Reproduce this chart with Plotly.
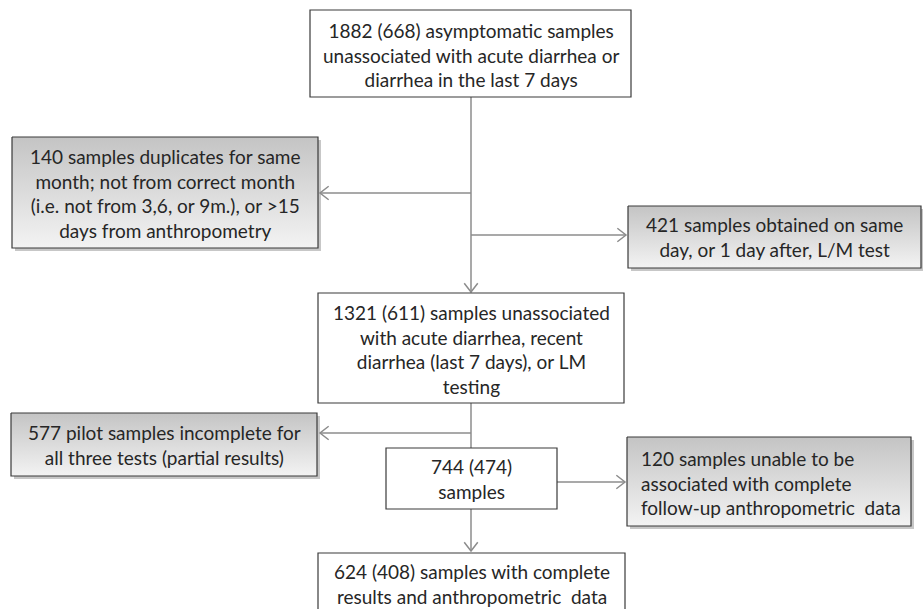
import math
import plotly.graph_objects as go

W, H = 923, 609

# Flowchart content
box_texts = [
    "1882 (668) asymptomatic samples<br>unassociated with acute diarrhea or<br>diarrhea in the last 7 days",
    "140 samples duplicates for same<br>month; not from correct month<br>(i.e. not from 3,6, or 9m.), or >15<br>days from anthropometry",
    "421 samples obtained on same<br>day, or 1 day after, L/M test",
    "1321 (611) samples unassociated<br>with acute diarrhea, recent<br>diarrhea (last 7 days), or LM<br>testing",
    "577 pilot samples incomplete for<br>all three tests (partial results)",
    "744 (474)<br>samples",
    "120 samples unable to be<br>associated with complete<br>follow-up anthropometric  data",
    "624 (408) samples with complete<br>results and anthropometric  data",
]
box_kind = ["main", "excl", "excl", "main", "excl", "main", "excl", "main"]
box_align = ["center", "center", "center", "center", "center", "center", "left", "center"]

# layout geometry (pixels)
rects = [
    (310, 10, 631, 97),
    (12, 137, 318, 248),
    (628, 206, 921, 268),
    (318, 293, 624, 403),
    (11, 413, 317, 476),
    (386, 448, 557, 509),
    (627, 437, 911, 526),
    (318, 553, 625, 660),
]
text_y = [55, 193, 237, 349, 445, 479, 483, 584]

connectors = [  # (points, arrow at end?)
    ([(471, 97), (471, 292)], True),
    ([(471, 193), (320, 193)], True),
    ([(471, 235), (626, 235)], True),
    ([(471, 403), (471, 448)], False),
    ([(471, 433), (320, 433)], True),
    ([(557, 482), (625, 482)], True),
    ([(471, 509), (471, 551)], True),
]

fig = go.Figure()
shapes = []
annotations = []
LINE = "#8c8c8c"
BORDER = "#3a3a3a"
FONT = dict(family="Lato, Open Sans, sans-serif", size=19, color="#262626")

for (x0, y0, x1, y1), kind, txt, al, ty in zip(rects, box_kind, box_texts, box_align, text_y):
    if kind == "excl":
        shapes.append(dict(type="rect", x0=x0 + 3, y0=y0 + 3, x1=x1 + 3, y1=y1 + 3,
                           line=dict(width=0), fillcolor="rgba(0,0,0,0.22)", layer="below"))
        fig.add_trace(go.Scatter(
            x=[x0, x1, x1, x0, x0], y=[y0, y0, y1, y1, y0], mode="lines",
            fill="toself", line=dict(color=BORDER, width=1.2),
            fillgradient=dict(type="vertical",
                              colorscale=[[0, "#f3f3f3"], [1, "#c4c4c4"]]),
            hoverinfo="skip", showlegend=False))
    else:
        shapes.append(dict(type="rect", x0=x0, y0=y0, x1=x1, y1=y1,
                           line=dict(color=BORDER, width=1.2), fillcolor="white"))
    if al == "left":
        annotations.append(dict(x=x0 + 12, y=ty, xref="x", yref="y", text=txt,
                                showarrow=False, xanchor="left", yanchor="middle",
                                align="left", font=FONT))
    else:
        annotations.append(dict(x=(x0 + x1) / 2, y=ty, xref="x", yref="y", text=txt,
                                showarrow=False, xanchor="center", yanchor="middle",
                                align="center", font=FONT))

for pts, arrow in connectors:
    xs = [p[0] for p in pts]
    ys = [p[1] for p in pts]
    fig.add_trace(go.Scatter(x=xs, y=ys, mode="lines", line=dict(color=LINE, width=1.5),
                             hoverinfo="skip", showlegend=False))
    if arrow:
        (ax, ay), (bx, by) = pts[-2], pts[-1]
        d = math.hypot(bx - ax, by - ay)
        ux, uy = (bx - ax) / d, (by - ay) / d
        L, th = 11, math.radians(38)
        arms = []
        for s in (1, -1):
            c, sn = math.cos(s * th), math.sin(s * th)
            rx = ux * c - uy * sn
            ry = ux * sn + uy * c
            arms.append((bx - L * rx, by - L * ry))
        fig.add_trace(go.Scatter(x=[arms[0][0], bx, arms[1][0]], y=[arms[0][1], by, arms[1][1]],
                                 mode="lines", line=dict(color=LINE, width=1.5),
                                 hoverinfo="skip", showlegend=False))

fig.update_layout(
    width=W, height=H, margin=dict(l=0, r=0, t=0, b=0),
    paper_bgcolor="white", plot_bgcolor="white",
    xaxis=dict(range=[0, W], visible=False, fixedrange=True),
    yaxis=dict(range=[H, 0], visible=False, fixedrange=True),
    shapes=shapes, annotations=annotations, showlegend=False,
)
fig.write_html("out.html", config={"displayModeBar": False},
               post_script="document.body.style.margin='0';document.body.style.padding='0';"
                           "document.body.style.overflow='hidden';")
